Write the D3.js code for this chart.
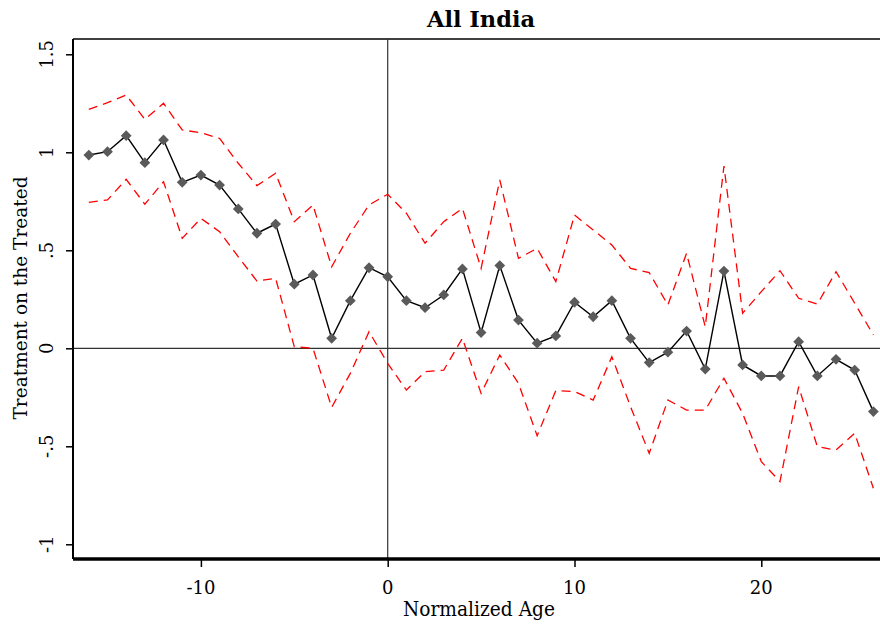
<!DOCTYPE html>
<html><head><meta charset="utf-8">
<script src="https://cdn.jsdelivr.net/npm/d3@7/dist/d3.min.js"></script>
<style>body{margin:0;background:#fff}svg{display:block}</style>
</head><body>
<svg id="c" width="880" height="626"></svg>
<script>
const ages = d3.range(-16, 27);
const estimate = [0.986,1.003,1.085,0.947,1.063,0.847,0.884,0.833,0.711,0.587,0.634,
  0.327,0.374,0.051,0.243,0.411,0.365,0.243,0.207,0.272,0.405,0.080,0.422,0.144,0.026,0.063,
  0.235,0.161,0.243,0.051,-0.073,-0.020,0.088,-0.106,0.394,-0.085,-0.141,-0.141,0.034,-0.141,-0.056,-0.111,-0.323];
const upper = [1.219,1.253,1.292,1.168,1.25,1.114,1.100,1.071,0.944,0.830,0.893,
  0.646,0.731,0.416,0.587,0.731,0.786,0.689,0.536,0.646,0.714,0.408,0.859,0.459,0.510,0.340,
  0.680,0.604,0.527,0.408,0.386,0.221,0.485,0.110,0.930,0.179,0.289,0.396,0.255,0.226,0.391,0.230,0.068];
const lower = [0.745,0.757,0.862,0.735,0.850,0.561,0.663,0.595,0.467,0.343,0.357,
  0.008,0.0,-0.301,-0.128,0.085,-0.077,-0.213,-0.119,-0.111,0.051,-0.230,-0.034,-0.179,-0.446,-0.216,
  -0.221,-0.264,-0.043,-0.298,-0.536,-0.264,-0.315,-0.315,-0.153,-0.332,-0.578,-0.680,-0.196,-0.502,-0.519,-0.434,-0.714];
const xTicks = [-10, 0, 10, 20];
const yTicks = [-1, -0.5, 0, 0.5, 1, 1.5];
const yTickLabels = ["-1", "-.5", "0", ".5", "1", "1.5"];
const title = "All India";
const xTitle = "Normalized Age";
const yTitle = "Treatment on the Treated";

const svg = d3.select("#c");
const font = "'DejaVu Serif', 'Liberation Serif', serif";
const L = 73, R = 880, T = 39, B = 559;
const x = d3.scaleLinear().domain([0, 10]).range([387.7, 574.5]);
const y = d3.scaleLinear().domain([0, 1]).range([348.3, 152.3]);

// frame top
svg.append("line").attr("x1", L).attr("x2", R).attr("y1", T).attr("y2", T)
  .attr("stroke", "#000").attr("stroke-width", 1.5);

// reference lines
svg.append("line").attr("x1", L).attr("x2", R).attr("y1", y(0)).attr("y2", y(0))
  .attr("stroke", "#333").attr("stroke-width", 1.2);
svg.append("line").attr("x1", x(0)).attr("x2", x(0)).attr("y1", T).attr("y2", B)
  .attr("stroke", "#333").attr("stroke-width", 1.2);

const data = ages.map((a, i) => ({a, e: estimate[i], u: upper[i], l: lower[i]}));

const lineU = d3.line().x(d => x(d.a)).y(d => y(d.u));
const lineL = d3.line().x(d => x(d.a)).y(d => y(d.l));
const lineE = d3.line().x(d => x(d.a)).y(d => y(d.e));

[lineU, lineL].forEach(g => {
  svg.append("path").attr("d", g(data)).attr("fill", "none")
    .attr("stroke", "#ff0000").attr("stroke-width", 1.3).attr("stroke-dasharray", "9,6");
});
svg.append("path").attr("d", lineE(data)).attr("fill", "none")
  .attr("stroke", "#000").attr("stroke-width", 1.4);

const sym = d3.symbol().type(d3.symbolSquare).size(58);
svg.selectAll(".pt").data(data).enter().append("path")
  .attr("d", sym).attr("transform", d => `translate(${x(d.a)},${y(d.e)}) rotate(45)`)
  .attr("fill", "#5a5a5a");

// y axis
const yAxis = d3.axisLeft(y).tickValues(yTicks).tickSize(7).tickFormat("");
const gy = svg.append("g").attr("transform", `translate(${L},0)`).call(yAxis);
gy.select(".domain").attr("d", `M0,${T}V${B}`).attr("stroke-width", 2);
gy.selectAll(".tick line").attr("stroke-width", 1.5);
yTicks.forEach((v, i) => {
  svg.append("text").attr("transform", `translate(53,${y(v)}) rotate(-90)`)
    .attr("text-anchor", "middle").attr("font-family", font).attr("font-size", 18)
    .text(yTickLabels[i]);
});

// x axis
const xAxis = d3.axisBottom(x).tickValues(xTicks).tickSize(8).tickFormat("");
const gx = svg.append("g").attr("transform", `translate(0,${B})`).call(xAxis);
gx.select(".domain").attr("d", `M${L},0H${R}`).attr("stroke-width", 3.5);
gx.selectAll(".tick line").attr("stroke-width", 1.5);
xTicks.forEach(v => {
  svg.append("text").attr("x", x(v)).attr("y", 594).attr("text-anchor", "middle")
    .attr("font-family", font).attr("font-size", 18).text(v);
});

svg.append("text").attr("x", 479).attr("y", 616).attr("text-anchor", "middle")
  .attr("font-family", font).attr("font-size", 19.5)
  .attr("textLength", 152).attr("lengthAdjust", "spacingAndGlyphs").text(xTitle);
svg.append("text").attr("transform", `translate(27,298) rotate(-90)`)
  .attr("text-anchor", "middle").attr("font-family", font).attr("font-size", 19)
  .attr("textLength", 243).attr("lengthAdjust", "spacingAndGlyphs").text(yTitle);
svg.append("text").attr("x", 481).attr("y", 27).attr("text-anchor", "middle")
  .attr("font-family", font).attr("font-size", 23).attr("font-weight", "bold")
  .attr("textLength", 108).attr("lengthAdjust", "spacingAndGlyphs").text(title);
</script>
</body></html>
